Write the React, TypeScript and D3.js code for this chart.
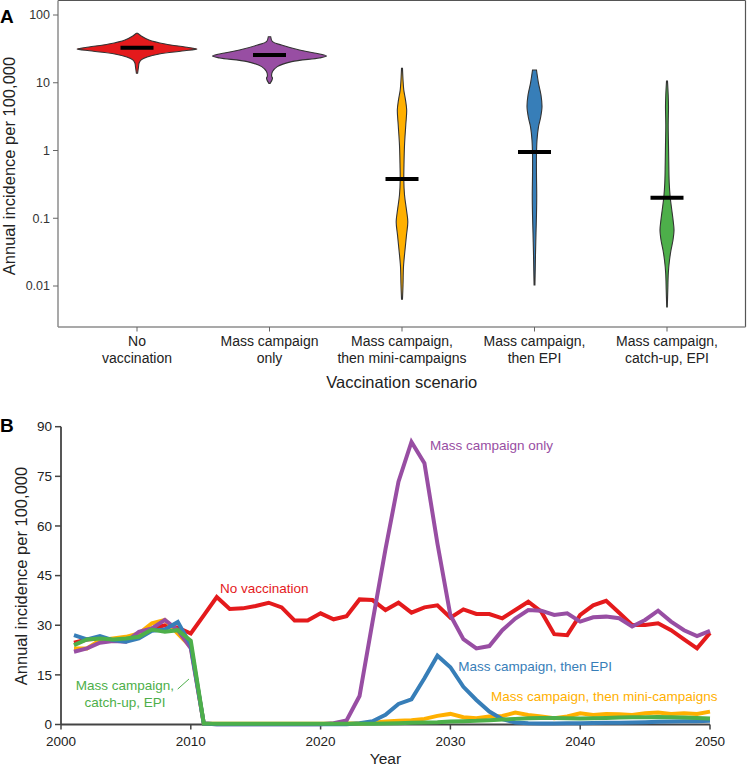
import React from 'react';
import * as d3 from 'd3';

// ---- Panel A: violin profiles, [incidence, relative width] from top to bottom ----
const scenarios = [
  ['No', 'vaccination'],
  ['Mass campaign', 'only'],
  ['Mass campaign,', 'then mini-campaigns'],
  ['Mass campaign,', 'then EPI'],
  ['Mass campaign,', 'catch-up, EPI'],
];
const colors = ['#e41a1c', '#984ea3', '#ffb000', '#377eb8', '#4daf4a'];
const medians = [32.9, 25.7, 0.38, 0.95, 0.2];

const violinNoVacc = [
  [53.7, 0.01], [49, 0.07], [42.8, 0.2], [37.3, 0.47], [33.7, 0.8], [31.5, 1],
  [29.4, 0.75], [26.6, 0.37], [24, 0.17], [21.7, 0.07], [19.6, 0.035], [17.1, 0.025], [13.8, 0.01],
];
const violinMassOnly = [
  [47.8, 0.02], [40.4, 0.05], [36.1, 0.2], [30.4, 0.5], [27.5, 0.75], [24.8, 0.95],
  [23.2, 0.83], [20.5, 0.37], [17.3, 0.13], [14.6, 0.05], [12.6, 0.035], [11.6, 0.05], [9.8, 0.01],
];
const violinMini = [
  [16.3, 0.008], [11, 0.017], [7.8, 0.03], [5.6, 0.058], [3.96, 0.078], [2.38, 0.063],
  [1.2, 0.042], [0.61, 0.033], [0.367, 0.03], [0.22, 0.042], [0.132, 0.075], [0.088, 0.097],
  [0.0566, 0.075], [0.034, 0.05], [0.0193, 0.025], [0.0104, 0.017], [0.0064, 0.008],
];
const violinEPI = [
  [15.4, 0.033], [9.8, 0.067], [6.6, 0.108], [4.43, 0.125], [3.02, 0.1], [2.25, 0.067],
  [1.43, 0.042], [0.86, 0.033], [0.435, 0.033], [0.22, 0.037], [0.112, 0.033], [0.0605, 0.025],
  [0.0307, 0.017], [0.0172, 0.012], [0.0104, 0.007],
];
const violinCatchUp = [
  [10.6, 0.008], [6.6, 0.02], [4.43, 0.025], [2.38, 0.02], [1.2, 0.025], [0.61, 0.03],
  [0.331, 0.037], [0.206, 0.053], [0.132, 0.08], [0.088, 0.105], [0.067, 0.117], [0.0478, 0.1],
  [0.034, 0.067], [0.0242, 0.042], [0.0156, 0.022], [0.0087, 0.013], [0.0049, 0.005],
];
const violins = [violinNoVacc, violinMassOnly, violinMini, violinEPI, violinCatchUp];
const logTicks = [100, 10, 1, 0.1, 0.01];

// ---- Panel B: annual incidence per 100,000, 2001-2050 ----
const years = d3.range(2001, 2051);
const noVaccination = [
  24.7, 25.7, 26, 25.5, 25.7, 26.5, 29, 30, 29.3, 27.5,
  33, 38.5, 34.9, 35.1, 35.8, 36.8, 35.4, 31.4, 31.4, 33.6,
  31.8, 32.7, 37.8, 37.6, 34.6, 36.8, 33.8, 35.4, 36, 32.3,
  34.8, 33.4, 33.4, 32.1, 34.6, 37.1, 34.1, 27.3, 27, 33.1,
  36, 37.4, 33.8, 30.1, 30.1, 30.6, 28.5, 25.7, 23, 27.7,
];
const massOnly = [
  22, 23, 24.7, 25.2, 25, 28, 29, 31.6, 28.5, 23,
  0.3, 0.1, 0.1, 0.1, 0.1, 0.1, 0.1, 0.1, 0.1, 0.1,
  0.4, 1.2, 8.6, 31, 53, 73.4, 85.4, 79, 54.7, 33,
  25.8, 23, 23.7, 28.5, 32, 34.6, 34.4, 33.1, 33.6, 31.1,
  32.4, 32.6, 32.1, 29.6, 31.6, 34.4, 31.1, 28.5, 26.7, 28.3,
];
const thenEPI = [
  27, 25.7, 26.7, 25.5, 25, 26, 28.3, 28.7, 31, 24,
  0.3, 0.1, 0.1, 0.1, 0.1, 0.1, 0.1, 0.1, 0.1, 0.1,
  0.1, 0.1, 0.4, 1, 2.9, 6.2, 7.6, 14, 20.8, 17.3,
  11.4, 7.4, 3.9, 1.6, 0.6, 0.4, 0.3, 0.3, 0.35, 0.4,
  0.45, 0.5, 0.55, 0.6, 0.7, 0.8, 0.9, 1, 1, 1.1,
];
const thenMini = [
  23, 23, 25.5, 26, 26.5, 27.5, 30.6, 31.6, 27.5, 23.5,
  0.3, 0.2, 0.2, 0.2, 0.2, 0.2, 0.2, 0.2, 0.2, 0.2,
  0.2, 0.3, 0.3, 0.5, 0.9, 1.1, 1.3, 1.7, 2.6, 3.2,
  2.2, 1.9, 2.4, 2.6, 3.6, 2.9, 2.4, 1.9, 2.4, 3.4,
  2.9, 3.2, 3.1, 2.9, 3.4, 3.6, 3.2, 3.4, 3.2, 3.9,
];
const catchUp = [
  24, 25.7, 26, 25.7, 26, 26.5, 28.7, 28, 28.5, 25.3,
  0.3, 0.2, 0.2, 0.2, 0.2, 0.2, 0.2, 0.2, 0.2, 0.2,
  0.2, 0.2, 0.2, 0.2, 0.3, 0.4, 0.5, 0.6, 0.7, 0.9,
  1, 1.1, 1.3, 1.5, 1.7, 1.9, 2, 2, 1.9, 1.8,
  1.9, 2, 2.1, 2.2, 2.2, 2.3, 2.2, 2.1, 2, 1.8,
];
// drawing order: red first, green last
const lineSeries = [
  { values: noVaccination, color: colors[0] },
  { values: thenMini, color: colors[2] },
  { values: massOnly, color: colors[1] },
  { values: thenEPI, color: colors[3] },
  { values: catchUp, color: colors[4] },
];
const lineLabels = [
  { lines: ['No vaccination'], year: 2012.25, value: 39.7, color: colors[0], anchor: 'start' },
  { lines: ['Mass campaign only'], year: 2028.43, value: 83, color: colors[1], anchor: 'start' },
  { lines: ['Mass campaign, then EPI'], year: 2030.6, value: 16.3, color: colors[3], anchor: 'start' },
  { lines: ['Mass campaign, then mini-campaigns'], year: 2033.13, value: 7.1, color: colors[2], anchor: 'start' },
  { lines: ['Mass campaign,', 'catch-up, EPI'], year: 2004.93, value: 10.4, color: colors[4], anchor: 'middle' },
];
const yearTicks = [2000, 2010, 2020, 2030, 2040, 2050];
const linTicks = [0, 15, 30, 45, 60, 75, 90];

const FONT = '"Liberation Sans", Arial, sans-serif';

export default function App() {
  // panel A
  const ax0 = 58, ax1 = 745.5, ayTop = 0.5, ayBot = 327;
  const xA = d3.scalePoint().domain(scenarios.map((_, i) => String(i))).range([137, 667]);
  const yA = d3.scaleLog().domain([0.01, 100]).range([286, 15]);
  const wA = d3.scaleLinear().domain([0, 1]).range([0, 60]);

  // panel B
  const xB = d3.scaleLinear().domain([2000, 2050]).range([61, 710]);
  const yB = d3.scaleLinear().domain([0, 90]).range([724.5, 426.7]);
  const line = d3.line<number>()
    .x((_, i) => xB(years[i]))
    .y(d => yB(d))
    .curve(d3.curveLinear);

  return (
    <svg width={747} height={766} style={{ position: 'absolute', left: 0, top: 0, background: '#fff' }}
      fontFamily={FONT}>
      {/* ---------- Panel A ---------- */}
      <text x={0} y={23} fontSize={19} fontWeight="bold" fill="#000">A</text>
      <line x1={ax0} x2={ax1} y1={ayTop} y2={ayTop} stroke="#555" strokeWidth={1.2} />
      <line x1={ax1} x2={ax1} y1={ayTop} y2={ayBot} stroke="#555" strokeWidth={1.2} />
      <line x1={ax0} x2={ax0} y1={ayTop} y2={ayBot} stroke="#8c8c8c" strokeWidth={1.5} />
      <line x1={ax0} x2={ax1} y1={ayBot} y2={ayBot} stroke="#8c8c8c" strokeWidth={1.5} />
      {logTicks.map(t => (
        <g key={t}>
          <line x1={ax0 - 5} x2={ax0} y1={yA(t)} y2={yA(t)} stroke="#666" strokeWidth={1} />
          <text x={ax0 - 8} y={yA(t)} dy="0.35em" textAnchor="end" fontSize={12.5} fill="#333">
            {d3.format('~g')(t)}
          </text>
        </g>
      ))}
      <text transform={`translate(15,166) rotate(-90)`} textAnchor="middle" fontSize={16.5} fill="#222">
        Annual incidence per 100,000
      </text>
      {scenarios.map((lab, i) => {
        const cx = xA(String(i))!;
        const area = d3.area<number[]>()
          .y(d => yA(d[0]))
          .x0(d => cx - wA(d[1]))
          .x1(d => cx + wA(d[1]))
          .curve(d3.curveCatmullRom);
        return (
          <g key={i}>
            <path d={area(violins[i]) || ''} fill={colors[i]} stroke="#333" strokeWidth={1.1} />
            <line x1={cx - 16.5} x2={cx + 16.5} y1={yA(medians[i])} y2={yA(medians[i])}
              stroke="#000" strokeWidth={4} />
            <line x1={cx} x2={cx} y1={ayBot} y2={ayBot + 4.5} stroke="#666" strokeWidth={1} />
            <text x={cx} y={346} textAnchor="middle" fontSize={14} fill="#222">{lab[0]}</text>
            <text x={cx} y={362.5} textAnchor="middle" fontSize={14} fill="#222">{lab[1]}</text>
          </g>
        );
      })}
      <text x={(ax0 + ax1) / 2} y={388} textAnchor="middle" fontSize={16.5} fill="#222">
        Vaccination scenario
      </text>

      {/* ---------- Panel B ---------- */}
      <text x={0} y={432} fontSize={19} fontWeight="bold" fill="#000">B</text>
      <line x1={xB(2000)} x2={xB(2000)} y1={yB(90)} y2={yB(0)} stroke="#444" strokeWidth={1.8} />
      <line x1={xB(2000)} x2={xB(2050)} y1={yB(0)} y2={yB(0)} stroke="#444" strokeWidth={1.8} />
      {linTicks.map(t => (
        <g key={t}>
          <line x1={xB(2000) - 6} x2={xB(2000)} y1={yB(t)} y2={yB(t)} stroke="#444" strokeWidth={1.5} />
          <text x={xB(2000) - 9} y={yB(t)} dy="0.35em" textAnchor="end" fontSize={13.5} fill="#222">{t}</text>
        </g>
      ))}
      {yearTicks.map(t => (
        <g key={t}>
          <line x1={xB(t)} x2={xB(t)} y1={yB(0)} y2={yB(0) + 5} stroke="#444" strokeWidth={1.5} />
          <text x={xB(t)} y={746} textAnchor="middle" fontSize={13.5} fill="#222">{t}</text>
        </g>
      ))}
      <text x={(xB(2000) + xB(2050)) / 2} y={764} textAnchor="middle" fontSize={15.5} fill="#222">Year</text>
      <text transform={`translate(27,576) rotate(-90)`} textAnchor="middle" fontSize={16.5} fill="#222">
        Annual incidence per 100,000
      </text>
      {lineSeries.map((s, i) => (
        <path key={i} d={line(s.values) || ''} fill="none" stroke={s.color} strokeWidth={4}
          strokeLinejoin="miter" />
      ))}
      {lineLabels.map((l, i) => (
        <text key={i} x={xB(l.year)} y={yB(l.value)} textAnchor={l.anchor} fontSize={13.5} fill={l.color}>
          {l.lines.map((s, j) => (
            <tspan key={j} x={xB(l.year)} dy={j === 0 ? 0 : 17}>{s}</tspan>
          ))}
        </text>
      ))}
      <line x1={xB(2008.99)} x2={xB(2009.86)} y1={yB(10.7)} y2={yB(13.75)} stroke={colors[4]} strokeWidth={1} />
    </svg>
  );
}
